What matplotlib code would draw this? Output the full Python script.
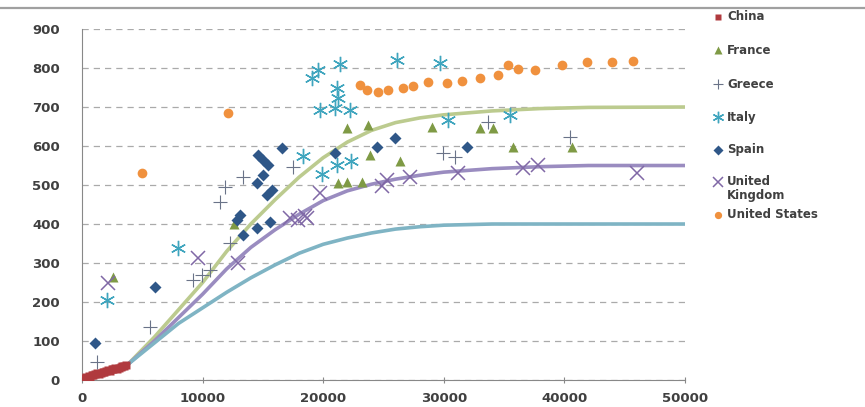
import matplotlib
matplotlib.use("Agg")
import matplotlib.pyplot as plt
from matplotlib.lines import Line2D

# scatter data
china_x = [80, 150, 250, 350, 450, 550, 700, 800, 950, 1100, 1250, 1400, 1550, 1700,
           1850, 2000, 2150, 2300, 2450, 2600, 2750, 2900, 3050, 3200, 3350, 3500, 3650]
china_y = [2, 5, 3, 8, 6, 10, 9, 13, 12, 15, 17, 16, 19, 21, 20, 23, 25, 24, 27, 28,
           30, 29, 32, 33, 35, 36, 38]

france_x = [2570, 12600, 21970, 23710, 29010, 23880, 26370, 33000, 34080, 35740, 40630,
            21230, 21970, 23220]
france_y = [264, 400, 646, 654, 650, 577, 562, 646, 646, 598, 598, 505, 508, 508]

greece_x = [1240, 5640, 9200, 9950, 10610, 11440, 11850, 13350, 12270, 17490, 29930,
            30930, 40460, 33700]
greece_y = [46, 136, 256, 269, 282, 456, 495, 521, 351, 546, 582, 572, 623, 662]

italy_x = [2070, 7960, 19070, 19570, 21390, 26120, 29690, 21140, 21230, 19740, 20980,
           22220, 30350, 35490, 18330, 22300, 19900, 21140]
italy_y = [205, 338, 774, 795, 810, 821, 813, 749, 723, 692, 697, 692, 667, 679, 575,
           562, 528, 551]

spain_x = [1080, 6050, 14600, 15000, 15420, 15010, 14510, 15750, 15340, 16580, 13100,
           12850, 15590, 14510, 13350, 20980, 24450, 25960, 31920]
spain_y = [95, 239, 577, 565, 551, 526, 505, 487, 474, 595, 423, 410, 405, 390, 372,
           582, 598, 620, 598]

uk_x = [2160, 9620, 12900, 17240, 17900, 18660, 18500, 19740, 24870, 25290, 27190,
        31170, 36570, 37810, 46010]
uk_y = [249, 313, 300, 415, 410, 415, 420, 479, 497, 513, 521, 530, 543, 551, 530]

us_x = [4980, 12100, 23050, 23630, 24540, 25370, 26620, 27440, 28690, 30260, 31510,
        33000, 34490, 35320, 36160, 37560, 39800, 41870, 43950, 45690]
us_y = [531, 684, 756, 744, 738, 744, 749, 754, 764, 761, 767, 774, 782, 808, 797,
        795, 808, 815, 815, 818]

# model curves
curve_x = [3800, 6000, 8000, 10000, 12000, 14000, 16000, 18000, 20000, 22000, 24000,
           26000, 28000, 30000, 34000, 38000, 42000, 50000]
curve_700 = [40, 110, 180, 250, 330, 400, 462, 520, 570, 610, 640, 660, 672, 680, 690,
             696, 699, 700]
curve_550 = [40, 100, 160, 220, 285, 340, 385, 425, 460, 485, 502, 515, 525, 533, 542,
             547, 550, 550]
curve_400 = [40, 95, 145, 185, 225, 262, 295, 325, 348, 364, 377, 387, 393, 397, 400,
             400, 400, 400]

labels = ["China", "France", "Greece", "Italy", "Spain", "United\nKingdom", "United States"]

fig = plt.figure(figsize=(8.65, 4.07), dpi=100)
ax = fig.add_axes([0.0948, 0.0663, 0.697, 0.8624])

ax.plot(curve_x, curve_700, color="#bccb8f", lw=2.6, zorder=2)
ax.plot(curve_x, curve_550, color="#9a8cc0", lw=2.6, zorder=2)
ax.plot(curve_x, curve_400, color="#7fb4c4", lw=2.6, zorder=2)

styles = [
    dict(marker="s", color="#b03a3e", ms=6, mec="none"),
    dict(marker="^", color="#7f9a45", ms=7, mec="none"),
    dict(marker="+", color="#6a7388", ms=10, mew=0.8),
    dict(marker=(6, 2, 0), color="#3fa5be", ms=11, mew=1.0),
    dict(marker="D", color="#2f5788", ms=6.5, mec="none"),
    dict(marker="x", color="#8068a6", ms=10, mew=1.1),
    dict(marker="o", color="#f0913e", ms=7, mec="none"),
]
data = [(china_x, china_y), (france_x, france_y), (greece_x, greece_y),
        (italy_x, italy_y), (spain_x, spain_y), (uk_x, uk_y), (us_x, us_y)]

for (xs, ys), st in zip(data, styles):
    ax.plot(xs, ys, ls="none", zorder=3, **st)

ax.set_xlim(0, 50000)
ax.set_ylim(0, 900)
ax.set_xticks(range(0, 50001, 10000))
ax.set_yticks(range(0, 901, 100))
ax.yaxis.grid(True, ls=(0, (5, 4)), color="#aaaaaa", lw=0.9)
ax.set_axisbelow(True)
for s in ["top", "right"]:
    ax.spines[s].set_visible(False)
for s in ["left", "bottom"]:
    ax.spines[s].set_color("#888888")
ax.tick_params(axis="y", length=0, pad=16, labelsize=9.5, labelcolor="#404040")
ax.tick_params(axis="x", direction="inout", length=5, color="#888888", pad=6,
               labelsize=9.5, labelcolor="#404040")
for t in ax.get_xticklabels() + ax.get_yticklabels():
    t.set_fontweight("bold")

# top rule
fig.add_artist(Line2D([0, 1], [1 - 8 / 407] * 2, color="#a0a0a0", lw=1.6))

# legend drawn by hand to match the wrapped "United Kingdom" entry
leg_y = [17, 50, 84, 117, 150, 182, 215]
for lab, st, py in zip(labels, styles, leg_y):
    yf = 1 - py / 407
    st_leg = dict(st)
    st_leg["ms"] = st["ms"] * 0.75
    fig.add_artist(Line2D([718 / 865], [yf], ls="none", **st_leg))
    if "\n" in lab:
        fig.text(727 / 865, yf + 7 / 407, lab, fontsize=8.5, fontweight="bold",
                 color="#404040", va="top", linespacing=1.05)
    else:
        fig.text(727 / 865, yf, lab, fontsize=8.5, fontweight="bold",
                 color="#404040", va="center")

fig.savefig("out.png", dpi=100)
